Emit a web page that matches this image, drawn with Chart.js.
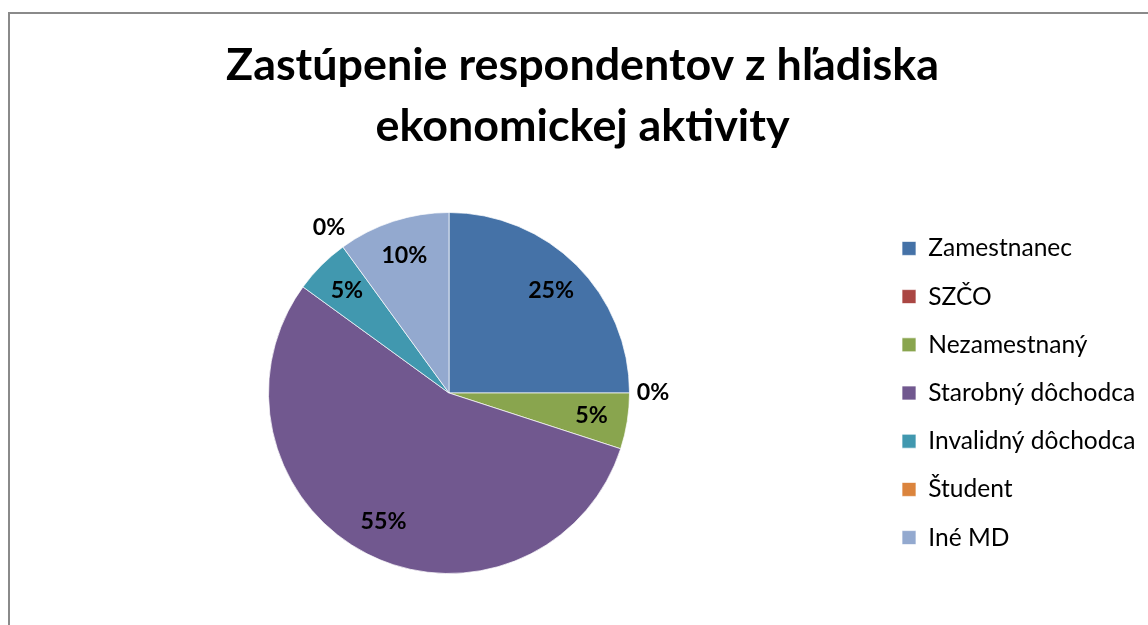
<!DOCTYPE html>
<html><head><meta charset="utf-8">
<script src="https://cdn.jsdelivr.net/npm/chart.js@4"></script>
<style>
html,body{margin:0;padding:0;background:#fff;overflow:hidden;width:1148px;height:625px}
#frame{position:absolute;left:8px;top:12px;width:1300px;height:800px;border:2px solid #8a8a8a;box-sizing:border-box}
#wrap{position:absolute;left:0;top:0;width:1148px;height:625px}
</style></head><body>
<div id="frame"></div>
<div id="wrap"><canvas id="c" width="1148" height="625"></canvas></div>
<script>
// ---- data ----
const titleLines = ['Zastúpenie respondentov z hľadiska', 'ekonomickej aktivity'];
const categories = ['Zamestnanec', 'SZČO', 'Nezamestnaný', 'Starobný dôchodca', 'Invalidný dôchodca', 'Študent', 'Iné MD'];
const values = [25, 0, 5, 55, 5, 0, 10];
const colors = ['#4572A7', '#AA4643', '#89A54E', '#71588F', '#4198AF', '#DB843D', '#93A9CF'];

// ---- styling helpers ----
const FAMILY = 'Lato, "Open Sans", sans-serif';
const mctx = document.createElement('canvas').getContext('2d');
function fit(text, weight, target) {
  mctx.font = weight + ' 100px ' + FAMILY;
  return 100 * target / mctx.measureText(text).width;
}
const titleSize = fit(titleLines[0], 'bold', 713);
const legendSize = fit('Starobný dôchodca', 'normal', 207);
const labelSize = fit('25%', 'bold', 46);

const W = 1148, H = 625;
const itemStep = 48.2;
const legPad = itemStep - legendSize;
const boxW = 14;
mctx.font = 'normal ' + legendSize + 'px ' + FAMILY;
let maxTxt = 0;
categories.forEach(t => { maxTxt = Math.max(maxTxt, mctx.measureText(t).width); });
const legendWidth = legPad + boxW + legendSize / 2 + maxTxt + 10;
const boxLeft = 902;
const legendLeft = boxLeft - legPad;
const padL = 2 * 449 - legendLeft;
const padR = W - legendLeft - legendWidth;
const titleLH = 61;

const labelPlugin = {
  id: 'sliceLabels',
  afterDatasetsDraw(chart) {
    const ctx = chart.ctx;
    const meta = chart.getDatasetMeta(0);
    const data = chart.data.datasets[0].data;
    const total = data.reduce((a, b) => a + b, 0);
    ctx.save();
    ctx.font = 'bold ' + labelSize + 'px ' + FAMILY;
    ctx.fillStyle = '#000';
    ctx.textAlign = 'center';
    ctx.textBaseline = 'middle';
    meta.data.forEach((arc, i) => {
      const p = arc.getProps(['x', 'y', 'startAngle', 'endAngle', 'outerRadius'], true);
      const mid = (p.startAngle + p.endAngle) / 2;
      const r = data[i] === 0 ? p.outerRadius * 1.13 : p.outerRadius * 0.8;
      const txt = Math.round(data[i] / total * 100) + '%';
      ctx.fillText(txt, p.x + Math.cos(mid) * r, p.y + Math.sin(mid) * r);
    });
    ctx.restore();
  }
};

new Chart(document.getElementById('c'), {
  type: 'pie',
  data: {
    labels: categories,
    datasets: [{
      data: values,
      backgroundColor: colors,
      borderColor: 'rgba(255,255,255,0.7)',
      borderWidth: 1
    }]
  },
  options: {
    responsive: false,
    animation: false,
    layout: { padding: { top: 0, left: padL, right: padR, bottom: 51 } },
    plugins: {
      title: {
        display: true,
        text: titleLines,
        color: '#000',
        font: { family: FAMILY, size: titleSize, weight: 'bold', lineHeight: titleLH / titleSize },
        padding: { top: 35.5, bottom: 212 - 35.5 - 2 * titleLH }
      },
      legend: {
        position: 'right',
        fullSize: false,
        labels: {
          boxWidth: boxW,
          boxHeight: 14,
          padding: legPad,
          color: '#000',
          font: { family: FAMILY, size: legendSize }
        }
      },
      tooltip: { enabled: false }
    }
  },
  plugins: [labelPlugin]
});
</script>
</body></html>
